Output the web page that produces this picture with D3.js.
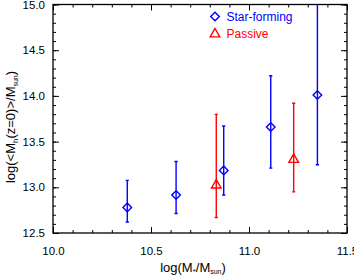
<!DOCTYPE html>
<html>
<head>
<meta charset="utf-8">
<script src="https://cdn.jsdelivr.net/npm/d3@7"></script>
<style>
  body { margin: 0; background: #fff; }
  svg { display: block; font-family: 'Liberation Sans', Arial, sans-serif; }
</style>
</head>
<body>
<svg id="chart" width="354" height="275"></svg>
<script>
// star-forming bins
const sfMass = [10.379, 10.628, 10.871, 11.111, 11.349];
const sfHalo = [12.78, 12.916, 13.185, 13.66, 14.01];
const sfLow  = [12.62, 12.714, 12.916, 13.21, 13.247];
const sfHigh = [13.076, 13.283, 13.67, 14.22, 15.2];

// passive bins
const pMass = [10.833, 11.228];
const pHalo = [13.03, 13.31];
const pLow  = [12.67, 12.95];
const pHigh = [13.798, 13.92];

const xTicks = [10.0, 10.5, 11.0, 11.5];
const yTicks = [12.5, 13.0, 13.5, 14.0, 14.5, 15.0];

const margin = { top: 4.5, right: 7, bottom: 42, left: 53 };
const w = 354, h = 275;

const svg = d3.select('#chart');

const x = d3.scaleLinear().domain([10.0, 11.5]).range([margin.left, w - margin.right]);
const y = d3.scaleLinear().domain([12.5, 15.0]).range([h - margin.bottom, margin.top]);

svg.append('defs').append('clipPath').attr('id', 'clip')
  .append('rect')
  .attr('x', x(10.0)).attr('y', y(15.0))
  .attr('width', x(11.5) - x(10.0)).attr('height', y(12.5) - y(15.0));

const xMinor = d3.range(10.0, 11.51, 0.1);
const yMinor = d3.range(12.5, 15.01, 0.1);

// axes with inward ticks on all four sides
function axisGroup(axis, tr) {
  const g = svg.append('g').attr('transform', tr).call(axis);
  g.select('.domain').remove();
  g.selectAll('line').attr('stroke', '#000').attr('stroke-width', 1);
  return g;
}

axisGroup(d3.axisBottom(x).tickValues(xMinor).tickSize(-3).tickFormat(''), `translate(0,${y(12.5)})`);
axisGroup(d3.axisTop(x).tickValues(xMinor).tickSize(-3).tickFormat(''), `translate(0,${y(15.0)})`);
axisGroup(d3.axisLeft(y).tickValues(yMinor).tickSize(-3).tickFormat(''), `translate(${x(10.0)},0)`);
axisGroup(d3.axisRight(y).tickValues(yMinor).tickSize(-3).tickFormat(''), `translate(${x(11.5)},0)`);

axisGroup(d3.axisBottom(x).tickValues(xTicks).tickSize(-6).tickPadding(14).tickFormat(d3.format('.1f')), `translate(0,${y(12.5)})`);
axisGroup(d3.axisTop(x).tickValues(xTicks).tickSize(-6).tickFormat(''), `translate(0,${y(15.0)})`);
axisGroup(d3.axisLeft(y).tickValues(yTicks).tickSize(-6).tickPadding(8).tickFormat(d3.format('.1f')), `translate(${x(10.0)},0)`);
axisGroup(d3.axisRight(y).tickValues(yTicks).tickSize(-6).tickFormat(''), `translate(${x(11.5)},0)`);

svg.selectAll('.tick text').attr('font-size', 11.5).attr('fill', '#000')
  .attr('font-family', "'Liberation Sans', Arial, sans-serif");

svg.append('rect')
  .attr('x', x(10.0)).attr('y', y(15.0))
  .attr('width', x(11.5) - x(10.0)).attr('height', y(12.5) - y(15.0))
  .attr('fill', 'none').attr('stroke', '#000').attr('stroke-width', 1.3);

// error bars and markers
const plot = svg.append('g').attr('clip-path', 'url(#clip)');

function drawSeries(mass, val, lo, hi, color, shape) {
  const rows = mass.map((m, i) => ({ m, v: val[i], lo: lo[i], hi: hi[i] }));
  const g = plot.append('g').attr('stroke', color).attr('fill', 'none').attr('stroke-width', 1.4);
  g.selectAll('.bar').data(rows).enter().append('line')
    .attr('x1', d => x(d.m)).attr('x2', d => x(d.m))
    .attr('y1', d => y(d.lo)).attr('y2', d => y(d.hi));
  g.selectAll('.capl').data(rows).enter().append('line')
    .attr('x1', d => x(d.m) - 1.6).attr('x2', d => x(d.m) + 1.6)
    .attr('y1', d => y(d.lo)).attr('y2', d => y(d.lo));
  g.selectAll('.caph').data(rows).enter().append('line')
    .attr('x1', d => x(d.m) - 1.6).attr('x2', d => x(d.m) + 1.6)
    .attr('y1', d => y(d.hi)).attr('y2', d => y(d.hi));
  g.selectAll('.mk').data(rows).enter().append('path')
    .attr('transform', d => `translate(${x(d.m)},${y(d.v)})`)
    .attr('d', shape);
}

const diamond = 'M0,-4.3L4.3,0L0,4.3L-4.3,0Z';
const triangle = 'M0,-5L4.8,3.4L-4.8,3.4Z';

drawSeries(pMass, pHalo, pLow, pHigh, '#ff0000', triangle);
drawSeries(sfMass, sfHalo, sfLow, sfHigh, '#0000ff', diamond);

// legend
const legend = [
  { label: 'Star-forming', color: '#0000ff', shape: diamond, ly: 16.5 },
  { label: 'Passive', color: '#ff0000', shape: triangle, ly: 33.5 }
];
const lg = svg.append('g');
lg.selectAll('path').data(legend).enter().append('path')
  .attr('transform', d => `translate(215,${d.ly})`)
  .attr('d', d => d.shape)
  .attr('fill', 'none').attr('stroke', d => d.color).attr('stroke-width', 1.4);
lg.selectAll('text').data(legend).enter().append('text')
  .attr('x', 226.5).attr('y', d => d.ly + 4.5)
  .attr('fill', d => d.color).attr('font-size', 12)
  .text(d => d.label);

// axis titles
const xt = svg.append('text')
  .attr('x', 193).attr('y', 271.5)
  .attr('text-anchor', 'middle').attr('font-size', 13);
xt.append('tspan').text('log(M');
xt.append('tspan').attr('font-size', 8).attr('dy', 2).text('*');
xt.append('tspan').attr('dy', -2).text('/M');
xt.append('tspan').attr('font-size', 7).attr('dy', 2.5).text('sun');
xt.append('tspan').attr('dy', -2.5).text(')');

const yt = svg.append('text')
  .attr('transform', `translate(15,127) rotate(-90)`)
  .attr('text-anchor', 'middle').attr('font-size', 13);
yt.append('tspan').text('log(<M');
yt.append('tspan').attr('font-size', 8).attr('dy', 2.5).text('h');
yt.append('tspan').attr('dy', -2.5).text('(z=0)>/M');
yt.append('tspan').attr('font-size', 7).attr('dy', 2.5).text('sun');
yt.append('tspan').attr('dy', -2.5).text(')');
</script>
</body>
</html>
